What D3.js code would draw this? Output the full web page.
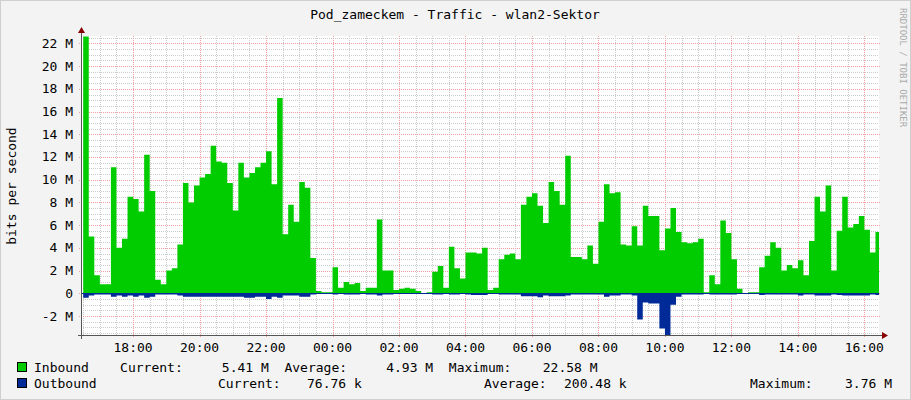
<!DOCTYPE html>
<html><head><meta charset="utf-8">
<script src="https://cdn.jsdelivr.net/npm/d3@7"></script>
<style>
body{margin:0;background:#f3f3f3;}
text{font-family:"DejaVu Sans Mono",monospace;font-size:13px;fill:#000;white-space:pre;}
</style></head><body>
<svg id="c" width="911" height="400"></svg>
<script>
// ---- data: 10 minute steps starting 16:30, values in Mbit/s ----
var startTime=new Date(2024,0,1,16,30);
var stepMin=10;
var inbound=[22.6,5.0,1.6,0.8,0.8,11.1,4.0,4.8,8.5,8.3,7.2,12.2,9.0,1.2,0.8,2.0,2.2,4.3,9.7,8.0,
9.5,10.2,10.5,13.0,11.6,11.5,9.7,7.3,11.5,10.2,10.6,11.1,11.5,12.5,9.6,17.2,5.2,7.8,6.3,9.8,
9.3,3.1,0.2,0.1,0.1,2.3,0.5,1.0,0.8,0.9,0.2,0.5,0.5,6.5,2.0,2.0,0.3,0.4,0.5,0.4,
0.2,0,0.1,1.9,2.4,0.5,4.1,2.2,1.3,3.6,3.6,3.5,4.0,0.3,0.5,3.0,3.4,3.5,3.0,7.8,
8.5,8.8,7.7,6.2,9.8,9.0,7.8,12.1,3.2,3.2,3.0,4.2,2.6,6.3,9.6,8.8,8.9,4.3,4.2,5.9,
4.2,7.7,6.8,6.8,3.8,5.7,7.5,5.4,4.5,4.4,4.5,4.8,0.1,1.6,0.8,6.4,5.3,3.0,0.4,0,
0.1,0.1,2.3,3.3,4.5,4.0,2.0,2.5,2.2,2.9,1.6,4.6,8.5,7.2,9.5,2.0,5.5,8.5,5.8,6.1,
6.8,5.6,3.6,5.4];
var outbound=[-0.4,-0.2,-0.1,-0.1,-0.1,-0.3,-0.2,-0.3,-0.2,-0.3,-0.2,-0.4,-0.3,-0.1,-0.1,-0.1,-0.1,-0.2,-0.3,-0.3,
-0.3,-0.3,-0.3,-0.3,-0.3,-0.3,-0.3,-0.3,-0.3,-0.4,-0.4,-0.3,-0.3,-0.5,-0.3,-0.4,-0.2,-0.2,-0.2,-0.3,
-0.3,-0.1,-0.05,-0.05,-0.05,-0.1,-0.05,-0.1,-0.1,-0.1,-0.05,-0.1,-0.1,-0.2,-0.1,-0.1,-0.05,-0.05,-0.05,-0.05,
-0.05,-0.02,-0.05,-0.1,-0.1,-0.05,-0.1,-0.1,-0.05,-0.1,-0.15,-0.15,-0.15,-0.05,-0.05,-0.1,-0.1,-0.1,-0.1,-0.25,
-0.25,-0.25,-0.35,-0.2,-0.25,-0.25,-0.25,-0.2,-0.1,-0.1,-0.1,-0.1,-0.1,-0.1,-0.3,-0.2,-0.2,-0.1,-0.1,-0.2,
-2.3,-0.8,-0.9,-0.9,-3.1,-3.76,-1.0,-0.3,-0.1,-0.1,-0.1,-0.1,-0.05,-0.1,-0.1,-0.1,-0.1,-0.1,-0.05,-0.02,
-0.02,-0.02,-0.15,-0.1,-0.1,-0.1,-0.1,-0.1,-0.1,-0.2,-0.1,-0.1,-0.2,-0.2,-0.2,-0.1,-0.15,-0.2,-0.2,-0.2,
-0.2,-0.2,-0.1,-0.15];
var yTicks=[-2,0,2,4,6,8,10,12,14,16,18,20,22];
var xTickHours=[18,20,22,0,2,4,6,8,10,12,14,16];
var title='Pod_zameckem - Traffic - wlan2-Sektor';
var legendIn='Inbound    Current:     5.41 M  Average:     4.93 M  Maximum:    22.58 M';
var legendOut=[['Outbound',34],['Current:',218],['76.76 k',307],['Average:',484],['200.48 k',564],['Maximum:',750],['3.76 M',845]];

var svg=d3.select('#c');
var L=81,R=879,T=36,B=335;
var t0=new Date(2024,0,1,16,26), t1=new Date(2024,0,2,16,30);
var x=d3.scaleTime().domain([t0,t1]).range([L,R+2]);
var y=d3.scaleLinear().domain([-3.67,22.65]).range([B,T]);
function tAt(i){return new Date(startTime.getTime()+i*stepMin*60000);}

// frame
svg.append('rect').attr('x',0.5).attr('y',0.5).attr('width',910).attr('height',399).attr('fill','#f3f3f3').attr('stroke','#cfcfcf');
svg.append('rect').attr('x',L).attr('y',T).attr('width',R-L).attr('height',B-T).attr('fill','#fff');

var g=svg.append('g');
// minor grid
d3.range(-3.5,22.6,0.5).forEach(function(v){
  if(v%2===0) return;
  g.append('line').attr('x1',L).attr('x2',R).attr('y1',Math.round(y(v))+.5).attr('y2',Math.round(y(v))+.5)
   .attr('stroke','#ccc').attr('stroke-dasharray','1,1');
});
d3.timeMinute.every(30).range(t0,t1).forEach(function(t){
  if(t.getMinutes()===0&&t.getHours()%2===0) return;
  g.append('line').attr('y1',T).attr('y2',B).attr('x1',Math.round(x(t))+.5).attr('x2',Math.round(x(t))+.5)
   .attr('stroke','#ccc').attr('stroke-dasharray','1,1');
});
// major grid
yTicks.forEach(function(v){
  g.append('line').attr('x1',L-2).attr('x2',R+2).attr('y1',Math.round(y(v))+.5).attr('y2',Math.round(y(v))+.5)
   .attr('stroke','#f0a0a0').attr('stroke-dasharray','1,1');
  svg.append('text').attr('x',73).attr('y',y(v)+4.5).attr('text-anchor','end').text(v===0?'0':v+' M');
});
xTickHours.forEach(function(h){
  var t=new Date(2024,0,h>=17?1:2,h,0);
  g.append('line').attr('y1',T).attr('y2',B+2).attr('x1',Math.round(x(t))+.5).attr('x2',Math.round(x(t))+.5)
   .attr('stroke','#f0a0a0').attr('stroke-dasharray','1,1');
  svg.append('text').attr('x',x(t)).attr('y',352).attr('text-anchor','middle').text(d3.timeFormat('%H:%M')(t));
});

// areas
svg.append('clipPath').attr('id','pc').append('rect').attr('x',L).attr('y',T).attr('width',R-L).attr('height',B-T);
var idx=d3.range(inbound.length+1);
function val(arr,i){return arr[Math.min(i,arr.length-1)];}
var area=function(arr){return d3.area().curve(d3.curveStepAfter).x(function(i){return x(tAt(i));}).y0(y(0)).y1(function(i){return y(val(arr,i));})(idx);};
svg.append('path').attr('d',area(inbound)).attr('fill','#00cc00').attr('clip-path','url(#pc)');
svg.append('path').attr('d',area(outbound)).attr('fill','#002a97').attr('clip-path','url(#pc)');
svg.append('line').attr('x1',L).attr('x2',R).attr('y1',Math.round(y(0))+.5).attr('y2',Math.round(y(0))+.5).attr('stroke','#002a97');

// axes
svg.append('line').attr('x1',L+.5).attr('x2',L+.5).attr('y1',B+4).attr('y2',T-4).attr('stroke','#555');
svg.append('line').attr('x1',L-3).attr('x2',R+5).attr('y1',B+.5).attr('y2',B+.5).attr('stroke','#555');
svg.append('path').attr('d','M'+(L-3)+','+(T-3)+'L'+(L+4)+','+(T-3)+'L'+(L+.5)+','+(T-9)+'Z').attr('fill','#800');
svg.append('path').attr('d','M'+(R+3)+','+(B-3)+'L'+(R+3)+','+(B+4)+'L'+(R+9)+','+(B+.5)+'Z').attr('fill','#800');

// texts
svg.append('text').attr('x',455).attr('y',19).attr('text-anchor','middle').text(title);
svg.append('text').attr('transform','translate(16,186) rotate(-90)').attr('text-anchor','middle').text('bits per second');
svg.append('text').attr('transform','translate(900,8) rotate(90)').style('font-size','9px').style('fill','#aaa').text('RRDTOOL / TOBI OETIKER');
svg.append('rect').attr('x',17.5).attr('y',362.5).attr('width',9).attr('height',9).attr('fill','#00cc00').attr('stroke','#000');
svg.append('rect').attr('x',17.5).attr('y',378.5).attr('width',9).attr('height',9).attr('fill','#002a97').attr('stroke','#000');
svg.append('text').attr('x',34).attr('y',372).text(legendIn);
legendOut.forEach(function(d){svg.append('text').attr('x',d[1]).attr('y',388).text(d[0]);});
</script>
</body></html>
